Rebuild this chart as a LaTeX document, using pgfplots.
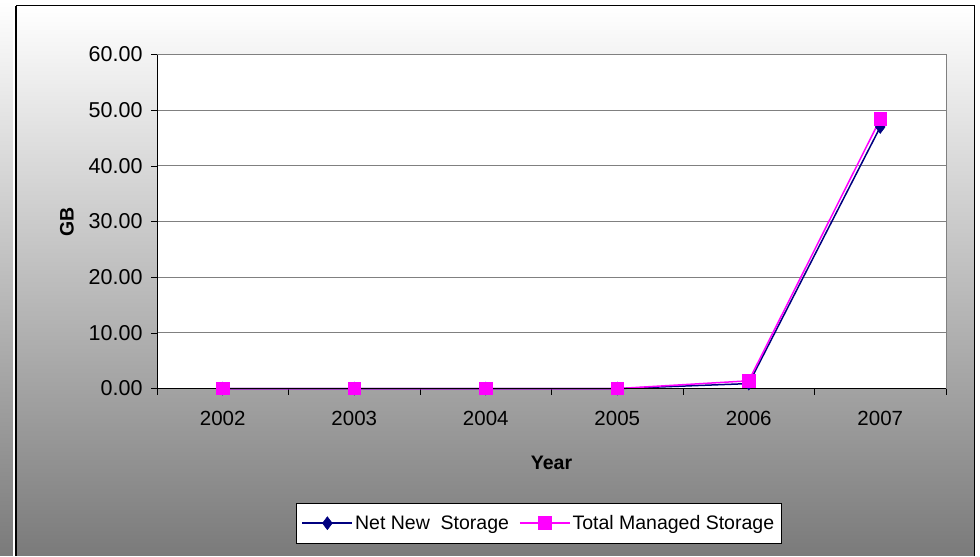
\documentclass[border=0pt]{standalone}
\usepackage{pgfplots}
\pgfplotsset{compat=1.18}
\usepackage{fontspec}
\setmainfont{Liberation Sans}
\definecolor{navyc}{HTML}{000080}
\definecolor{pinkc}{HTML}{FF00FF}
\newcommand\cf{\fontsize{19.5bp}{23bp}\selectfont}
\newcommand\yf{\fontsize{21.5bp}{24bp}\selectfont}
\newcommand\xf{\fontsize{20.5bp}{24bp}\selectfont}
\begin{document}
\begin{tikzpicture}[x=1bp,y=1bp]
% background
\fill[white] (0,0) rectangle (980,555);
\shade[top color=white, bottom color=black!52] (0,0) rectangle (13,555);
\shade[top color=white, bottom color=black!52] (17,0) rectangle (974,549);
\draw[white, line width=1.2bp] (13.6,0) -- (13.6,555);
\draw[black, line width=2bp] (16,0) -- (16,550);
\draw[black, line width=1.5bp] (16,550) -- (974.5,550) -- (974.5,0);
\begin{axis}[
  at={(157bp,167bp)}, anchor=south west,
  width=789bp, height=334bp, scale only axis,
  xmin=-0.5, xmax=5.5, ymin=0, ymax=60,
  axis background/.style={fill=white},
  axis line style={draw=gray, line width=1bp},
  xtick={0,1,2,3,4,5},
  xticklabels={2002,2003,2004,2005,2006,2007},
  major x tick style={draw=none},
  minor xtick={-0.5,0.5,1.5,2.5,3.5,4.5,5.5},
  minor tick length=6bp,
  minor x tick style={black, line width=0.8bp},
  ytick={0,10,20,30,40,50,60},
  major tick length=6bp,
  y tick style={black, line width=0.8bp},
  tick align=outside,
  tick pos=left,
  ymajorgrids, grid style={gray, line width=1bp},
  yticklabel={\pgfmathprintnumber[fixed,fixed zerofill,precision=2]{\tick}},
  /pgf/number format/assume math mode=true,
  xticklabel style={font=\xf, yshift=-13bp},
  yticklabel style={font=\yf, xshift=-5bp},
  xlabel={\textbf{Year}}, ylabel={\textbf{GB}},
  label style={font=\cf},
  xlabel style={yshift=-24bp},
  ylabel style={yshift=8bp},
  legend columns=2,
  legend style={at={(0.484,-0.403)}, anchor=center, font=\cf,
    draw=black, line width=0.8bp, fill=white, inner xsep=5bp, inner ysep=10bp,
    /tikz/every even column/.append style={column sep=8bp}},
  legend image code/.code={
    \draw[mark repeat=2,mark phase=2] plot coordinates {(0bp,0bp) (25bp,0bp) (50bp,0bp)};},
  clip=false,
]
\addplot[navyc, line width=1.5bp, mark=diamond*, mark size=6.5bp, mark options={fill=navyc, draw=navyc, line width=0.5bp}]
  coordinates {(0,0) (1,0) (2,0) (3,0) (4,0.9) (5,47.0)};
\addlegendentry{Net New\ \ Storage}
\addplot[pinkc, line width=1.5bp, mark=square*, mark size=6bp, mark options={fill=pinkc, draw=pinkc}]
  coordinates {(0,0) (1,0) (2,0) (3,0) (4,1.4) (5,48.4)};
\addlegendentry{Total Managed Storage}
\draw[black, line width=1bp] (rel axis cs:0,1) -- (rel axis cs:0,0) -- (rel axis cs:1,0);
\end{axis}
\end{tikzpicture}
\end{document}
